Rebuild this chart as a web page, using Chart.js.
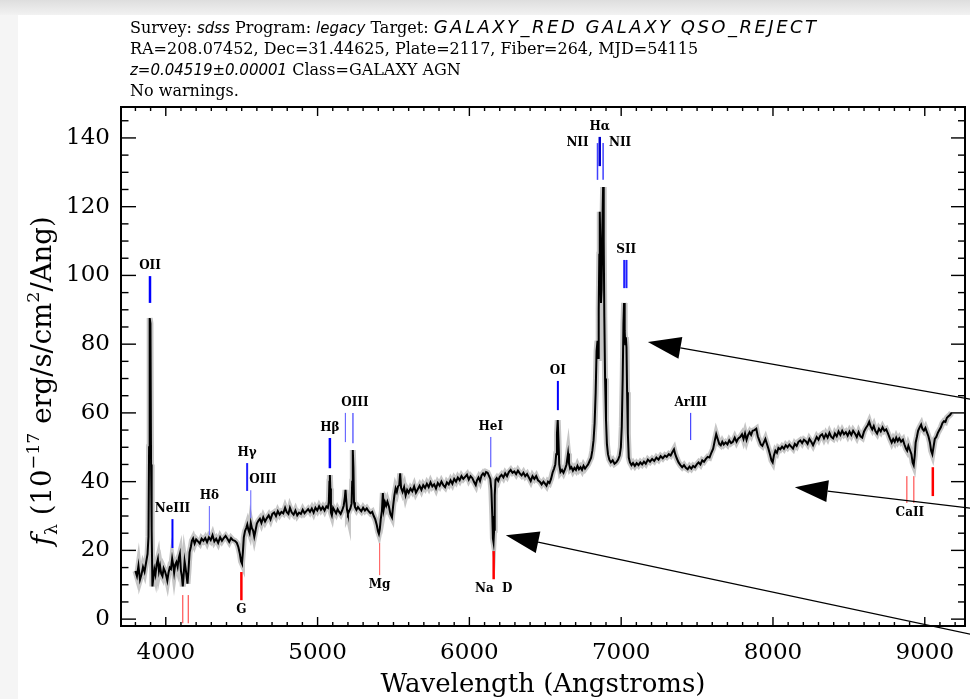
<!DOCTYPE html>
<html>
<head>
<meta charset="utf-8">
<title>SDSS spectrum</title>
<script src="https://cdn.jsdelivr.net/npm/chart.js@4.4.1/dist/chart.umd.min.js"></script>
<style>
  html, body { margin: 0; padding: 0; background: #fff; overflow: hidden; }
  canvas { display: block; }
</style>
</head>
<body>
<canvas id="spec" width="970" height="699"></canvas>
<script>
const wave = [
  3800,3810,3820,3830,3840,3850,3860,3870,3880,3886,
  3890,3894,3899,3903,3907,3912,3918,3925,3932,3940,
  3948,3955,3962,3970,3978,3986,3994,4002,4010,4018,
  4026,4034,4042,4048,4055,4062,4070,4078,4086,4093,
  4100,4106,4112,4118,4124,4130,4137,4143,4150,4157,
  4165,4172,4180,4190,4200,4212,4224,4236,4248,4260,
  4272,4284,4296,4308,4320,4332,4345,4358,4370,4382,
  4394,4406,4418,4430,4442,4455,4468,4478,4488,4496,
  4502,4508,4514,4522,4530,4537,4544,4552,4560,4567,
  4575,4583,4590,4600,4610,4620,4630,4642,4654,4666,
  4678,4690,4702,4714,4726,4738,4750,4762,4774,4786,
  4796,4808,4818,4830,4842,4854,4866,4878,4890,4902,
  4914,4926,4938,4950,4962,4974,4986,4998,5010,5022,
  5034,5046,5058,5068,5074,5078,5081,5084,5088,5094,
  5102,5112,5122,5132,5142,5152,5162,5172,5180,5184,
  5188,5194,5200,5208,5216,5224,5228,5232,5236,5240,
  5246,5256,5266,5276,5288,5300,5312,5324,5336,5348,
  5360,5370,5380,5390,5398,5404,5410,5416,5424,5430,
  5436,5444,5452,5460,5470,5480,5490,5498,5506,5514,
  5522,5530,5538,5544,5550,5560,5570,5580,5590,5600,
  5612,5624,5636,5648,5660,5672,5684,5696,5708,5720,
  5732,5744,5756,5768,5780,5792,5804,5816,5828,5840,
  5852,5864,5876,5888,5900,5912,5924,5936,5948,5960,
  5972,5984,5996,6008,6020,6032,6042,6050,6060,6070,
  6080,6090,6100,6110,6120,6130,6138,6145,6151,6155,
  6159,6163,6167,6172,6180,6190,6200,6212,6224,6236,
  6248,6260,6272,6284,6296,6308,6320,6332,6344,6356,
  6368,6380,6392,6404,6416,6428,6440,6452,6464,6476,
  6488,6498,6508,6518,6528,6538,6548,6558,6566,6572,
  6577,6582,6587,6592,6600,6610,6620,6630,6640,6650,
  6656,6664,6672,6682,6692,6702,6712,6722,6732,6742,
  6752,6762,6772,6782,6792,6802,6810,6818,6825,6832,
  6838,6844,6848,6852,6856,6859,6863,6867,6871,6876,
  6881,6885,6889,6894,6900,6906,6913,6922,6932,6944,
  6956,6968,6980,6990,6998,7004,7010,7015,7019,7023,
  7027,7031,7035,7039,7044,7050,7058,7068,7078,7090,
  7102,7114,7126,7138,7150,7162,7176,7190,7204,7218,
  7232,7246,7260,7274,7288,7300,7314,7326,7338,7348,
  7356,7366,7378,7390,7402,7414,7426,7438,7450,7462,
  7474,7486,7498,7510,7522,7534,7546,7558,7570,7582,
  7594,7606,7616,7626,7636,7646,7656,7666,7676,7688,
  7700,7712,7724,7736,7748,7760,7772,7784,7796,7806,
  7816,7826,7836,7846,7856,7866,7878,7890,7900,7910,
  7920,7930,7940,7950,7960,7970,7980,7990,7998,8006,
  8016,8026,8036,8048,8060,8072,8084,8096,8108,8120,
  8132,8144,8156,8168,8180,8192,8204,8216,8228,8240,
  8252,8264,8276,8288,8300,8312,8324,8336,8348,8360,
  8372,8384,8396,8408,8420,8432,8444,8456,8468,8480,
  8492,8504,8516,8528,8540,8552,8564,8576,8588,8600,
  8612,8624,8634,8644,8654,8664,8674,8686,8698,8710,
  8722,8734,8746,8758,8770,8782,8792,8802,8812,8822,
  8832,8844,8856,8866,8876,8884,8892,8902,8912,8920,
  8927,8934,8940,8948,8956,8966,8976,8984,8994,9004,
  9014,9024,9034,9042,9050,9058,9066,9076,9086,9096,
  9106,9116,9126,9136,9146,9156,9166,9176
];
// flux, 1e-17 erg/s/cm^2/Ang
const flux = [
  14.0,12.5,15.5,11.5,13.0,15.2,13.8,16.4,19.0,24.0,
  50.0,87.6,86.0,45.0,26.0,9.5,12.0,14.5,13.0,16.0,
  17.5,14.0,15.5,13.2,12.5,14.8,14.0,12.8,11.2,13.5,
  15.0,14.6,17.6,16.0,13.5,15.8,16.6,15.2,17.8,19.0,
  14.0,12.5,9.5,13.0,16.8,15.0,12.5,10.3,14.5,19.5,
  21.0,22.8,23.5,22.0,23.2,22.6,22.0,23.4,22.8,23.6,
  22.4,23.8,23.0,24.4,22.6,23.4,22.2,23.8,22.8,23.6,
  24.2,23.4,22.5,23.6,23.0,22.8,22.2,21.0,19.0,16.8,
  16.2,19.5,23.8,25.6,26.5,27.5,26.0,25.0,28.0,26.5,
  25.8,24.0,25.5,27.8,28.6,29.2,28.0,29.6,28.4,29.4,
  30.2,29.0,30.6,31.0,30.0,31.4,30.4,31.2,30.8,32.4,
  31.2,30.6,32.4,31.0,30.4,31.6,30.2,31.0,30.6,31.8,
  30.8,31.4,32.0,31.2,32.2,31.0,32.4,31.6,32.8,31.8,
  32.6,31.6,32.8,32.4,34.0,40.0,41.9,38.0,31.0,30.2,
  32.4,31.6,30.8,32.0,31.2,30.6,31.6,33.0,35.6,37.6,
  35.0,31.8,30.6,31.4,32.2,33.6,40.0,49.2,44.0,34.0,
  32.6,31.8,32.6,32.0,31.4,32.4,31.6,32.2,31.4,30.8,
  31.2,30.0,29.0,27.4,25.6,24.8,26.2,29.0,31.5,36.7,
  32.0,34.0,33.0,34.2,32.8,30.5,29.6,33.0,36.0,38.0,
  37.0,38.6,39.0,42.4,38.2,37.0,38.4,36.0,37.6,36.8,
  38.0,37.2,38.6,36.8,37.8,38.8,37.6,39.0,38.2,39.4,
  38.4,39.8,38.6,39.2,38.0,39.6,38.8,40.0,39.0,38.4,
  39.8,39.2,40.4,39.4,40.8,40.0,41.2,40.4,41.6,40.8,
  41.4,42.0,40.6,41.6,41.0,39.8,39.0,40.4,41.2,40.2,
  41.8,42.4,41.8,42.8,42.6,41.6,40.8,37.5,30.0,23.5,
  22.4,26.0,36.0,40.5,41.0,40.2,41.4,42.0,41.2,42.4,
  41.6,42.8,43.4,42.6,43.0,42.2,43.2,42.4,41.8,42.6,
  41.6,42.2,41.2,40.2,41.6,40.8,41.6,40.4,40.0,39.2,
  40.0,39.4,38.8,40.0,39.6,40.8,42.6,43.8,45.0,48.0,
  54.0,57.9,52.0,45.0,42.8,43.4,42.6,43.6,45.0,48.2,
  45.4,43.8,44.2,43.2,44.0,43.4,44.6,43.6,44.2,43.4,
  44.6,43.8,44.4,45.0,46.0,47.0,49.0,52.0,57.0,66.0,
  78.0,81.0,76.0,90.0,106.0,118.5,108.0,92.0,96.0,114.0,
  125.7,110.0,88.0,70.0,58.0,51.0,48.0,46.4,45.6,46.2,
  45.2,45.6,46.4,47.6,50.0,56.0,70.0,86.0,92.0,84.0,
  80.0,82.0,79.0,66.0,54.0,47.0,45.6,44.8,45.4,44.6,
  45.4,44.8,45.6,45.0,45.8,45.2,46.4,45.8,46.6,46.0,
  47.0,46.4,47.4,46.8,47.6,47.2,48.0,47.6,48.6,49.4,
  48.0,46.8,45.6,44.8,44.2,44.8,44.0,43.6,44.4,43.8,
  44.6,44.2,45.0,45.6,45.0,46.2,45.8,46.6,47.2,47.0,
  48.4,49.6,51.8,53.8,52.4,51.0,50.6,51.6,50.8,51.4,
  50.8,52.0,51.2,51.6,52.8,51.6,52.6,53.0,53.8,52.4,
  54.0,52.2,53.6,54.4,53.6,54.8,55.0,55.4,53.2,52.0,
  50.8,50.4,51.4,52.4,51.0,49.6,48.0,46.2,45.6,47.6,
  49.0,48.4,49.8,49.4,50.2,49.6,50.6,50.0,50.8,50.2,
  49.6,51.0,50.4,51.6,52.0,51.2,52.2,51.8,51.0,52.4,
  51.6,50.6,51.8,53.0,52.2,53.4,53.8,52.6,53.8,52.8,
  54.2,53.0,52.6,54.0,53.2,54.6,53.6,54.8,53.8,54.4,
  53.4,54.6,53.6,54.8,54.0,53.0,54.4,53.2,52.8,54.6,
  55.6,56.4,57.4,56.0,55.2,56.2,54.8,54.0,55.4,54.6,
  55.8,54.8,55.2,54.0,52.6,51.4,52.4,51.6,52.8,51.8,
  52.6,51.6,52.2,50.8,49.6,49.0,50.4,49.2,48.0,45.6,
  44.8,47.6,51.4,53.0,54.8,55.8,56.6,55.4,54.8,55.6,
  54.4,53.2,51.4,49.0,48.0,50.2,52.4,53.0,54.2,55.0,
  55.8,57.0,57.6,57.4,58.6,59.0,59.4,60.0
];

// axes
const xMin = 3705, xMax = 9265;
const yMin = -2, yMax = 149;
const xTickLabels = [4000, 5000, 6000, 7000, 8000, 9000];
const yTickLabels = [0, 20, 40, 60, 80, 100, 120, 140];

// emission line markers (blue, above the spectrum)
const emName = ['OII', 'NeIII', 'H\u03b4', 'H\u03b3', 'OIII', 'H\u03b2', '', 'OIII', 'HeI', 'OI', 'NII', 'H\u03b1', 'NII', 'SII', '', 'ArIII'];
const emWave = [3896, 4044, 4287, 4536, 4560, 5081, 5183, 5233, 6141, 6583, 6844, 6859, 6881, 7020, 7035, 7458];
const emTop  = [99.8, 29.1, 32.9, 45.4, 37.5, 52.7, 60.0, 60.0, 53.0, 69.3, 138.5, 140.3, 138.5, 104.5, 104.5, 60.0];
const emBot  = [92.0, 20.7, 24.4, 37.3, 29.4, 43.9, 51.5, 51.2, 44.2, 60.8, 127.8, 131.8, 127.8, 96.3, 96.3, 52.1];

// absorption line markers (red, below the spectrum)
const absName = ['', '', 'G', 'Mg', 'Na  D', 'CaII', '', ''];
const absWave = [4112, 4148, 4498, 5409, 6160, 8882, 8928, 9053];
const absTop  = [7.0, 7.0, 13.7, 22.1, 19.8, 41.6, 41.6, 44.2];
const absBot  = [-1.2, -1.2, 5.5, 12.8, 11.6, 33.8, 33.8, 35.8];

// overlaid arrows: tip and tail in data units
const arrowTip  = [[7176, 80.6], [8144, 38.4], [6240, 24.4]];
const arrowTail = [[9300, 64.0], [9300, 32.3], [9300, -4.4]];

// header text: [text, style]  0 = roman, 1 = italic, 2 = wide italic caps
const header = [
  [['Survey: ', 0], ['sdss', 1], [' Program: ', 0], ['legacy', 1], [' Target: ', 0], ['GALAXY_RED GALAXY QSO_REJECT', 2]],
  [['RA=208.07452, Dec=31.44625, Plate=2117, Fiber=264, MJD=54115', 0]],
  [['z=0.04519\u00b10.00001', 1], [' Class=GALAXY AGN', 0]],
  [['No warnings.', 0]]
];

// marker styles
const emWidth = [2.5, 2, 1, 2, 1, 2.5, 1, 1.2, 1, 2, 1.5, 2.5, 1.5, 2, 2, 1];
const emColor = ['#0000ff', '#0000ff', '#6060ff', '#2020ff', '#6060ff', '#0000ff', '#5050ff', '#4040ff',
                 '#4040ff', '#0000ff', '#4040ff', '#0000cc', '#4040ff', '#2020ff', '#2020ff', '#2020ff'];
const emDx = [0, 0, 0, 0, 12, 0, 0, 2, 0, 0, -20, 0, 17, 2, 0, 0];
const emDy = [0, 0, 0, 0, 0, 0, 0, 0, 0, 0, 10, 0, 10, 0, 0, 0];
const absWidth = [1, 1, 2.5, 1, 2.5, 1, 1, 2.5];
const absColor = ['#ff3030', '#ff3030', '#ff0000', '#ff5050', '#ff0000', '#ff3030', '#ff3030', '#ff0000'];
const absDx = [0, 0, 0, 0, 0, 3, 0, 0];

const serif = '"DejaVu Serif"';
Chart.defaults.font.family = 'DejaVu Serif';
Chart.defaults.color = '#000';

function seg(ctx, x1, y1, x2, y2) {
  ctx.beginPath(); ctx.moveTo(x1, y1); ctx.lineTo(x2, y2); ctx.stroke();
}

function arrow(ctx, x1, y1, x2, y2) {
  const a = Math.atan2(y2 - y1, x2 - x1);
  const L = 33, W = 11;
  const bx = x2 - L * Math.cos(a), by = y2 - L * Math.sin(a);
  ctx.lineWidth = 1.3;
  seg(ctx, x1, y1, bx, by);
  ctx.beginPath();
  ctx.moveTo(x2, y2);
  ctx.lineTo(bx + W * Math.sin(a), by - W * Math.cos(a));
  ctx.lineTo(bx - W * Math.sin(a), by + W * Math.cos(a));
  ctx.closePath();
  ctx.fill();
}

// draws text made of differently styled pieces, returns width
function pieces(ctx, parts, x, y, measureOnly) {
  let w = 0;
  parts.forEach(p => {
    ctx.font = p.font;
    ctx.letterSpacing = p.spacing || '0px';
    if (!measureOnly) ctx.fillText(p.t, x + w, y + (p.dy || 0));
    w += ctx.measureText(p.t).width;
  });
  ctx.letterSpacing = '0px';
  return w;
}

const headerFonts = [
  { font: '16px ' + serif },
  { font: 'italic 15px "DejaVu Sans"' },
  { font: 'italic 18px "DejaVu Sans"', spacing: '2.5px' }
];

const idlPlugin = {
  id: 'idl',
  beforeDraw(chart) {
    const ctx = chart.ctx;
    ctx.save();
    ctx.fillStyle = '#fff';
    ctx.fillRect(0, 0, chart.width, chart.height);
    const g = ctx.createLinearGradient(0, 0, 0, 15);
    g.addColorStop(0, '#dedede'); g.addColorStop(1, '#f2f2f2');
    ctx.fillStyle = g;
    ctx.fillRect(0, 0, chart.width, 15);
    ctx.fillStyle = '#f5f5f5';
    ctx.fillRect(0, 15, 18, chart.height - 15);
    ctx.restore();
  },
  afterDatasetsDraw(chart) {
    const ctx = chart.ctx, xs = chart.scales.x, ys = chart.scales.y;
    ctx.save();
    ctx.font = 'bold 12px ' + serif;
    ctx.textAlign = 'center';
    ctx.textBaseline = 'middle';
    ctx.fillStyle = '#000';
    emWave.forEach((w, i) => {
      const px = xs.getPixelForValue(w);
      const y1 = ys.getPixelForValue(emTop[i]), y2 = ys.getPixelForValue(emBot[i]);
      ctx.strokeStyle = emColor[i]; ctx.lineWidth = emWidth[i];
      seg(ctx, px, y1, px, y2);
      if (emName[i]) ctx.fillText(emName[i], px + emDx[i], y1 - 10 + emDy[i]);
    });
    absWave.forEach((w, i) => {
      const px = xs.getPixelForValue(w);
      const y1 = ys.getPixelForValue(absTop[i]), y2 = ys.getPixelForValue(absBot[i]);
      ctx.strokeStyle = absColor[i]; ctx.lineWidth = absWidth[i];
      seg(ctx, px, y1, px, y2);
      if (absName[i]) ctx.fillText(absName[i], px + absDx[i], y2 + 10);
    });
    ctx.restore();
  },
  afterDraw(chart) {
    const ctx = chart.ctx, a = chart.chartArea, xs = chart.scales.x, ys = chart.scales.y;
    ctx.save();
    ctx.strokeStyle = '#000';
    ctx.fillStyle = '#000';

    // inward ticks on all four sides
    ctx.lineWidth = 1.4;
    for (let w = Math.ceil(xs.min / 100) * 100; w <= xs.max; w += 100) {
      const px = xs.getPixelForValue(w);
      const major = w % 1000 === 0;
      seg(ctx, px, a.bottom, px, a.bottom - (major ? 9 : 4));
      seg(ctx, px, a.top, px, a.top + (major ? 9 : 4));
    }
    for (let v = Math.ceil(ys.min / 5) * 5; v <= ys.max; v += 5) {
      const py = ys.getPixelForValue(v);
      const major = v % 20 === 0;
      seg(ctx, a.left, py, a.left + (major ? 15 : 7.5), py);
      seg(ctx, a.right, py, a.right - (major ? 14 : 7), py);
    }
    ctx.lineWidth = 2;
    ctx.strokeRect(a.left, a.top, a.right - a.left, a.bottom - a.top);

    // header lines
    ctx.textAlign = 'left';
    ctx.textBaseline = 'alphabetic';
    header.forEach((line, k) => {
      const parts = line.map(p => Object.assign({ t: p[0] }, headerFonts[p[1]]));
      pieces(ctx, parts, 130, 33 + k * 21);
    });

    // x title
    ctx.font = '26px ' + serif;
    ctx.textAlign = 'center';
    ctx.fillText('Wavelength (Angstroms)', (a.left + a.right) / 2, 692);

    // y title, rotated, with sub/superscripts
    const big = '27.5px ' + serif, small = '17.5px ' + serif;
    const yt = [
      { t: 'f', font: 'italic 28.5px ' + serif },
      { t: '\u03bb', font: small, dy: 6 },
      { t: ' (10', font: big },
      { t: '\u221217', font: small, dy: -12 },
      { t: ' erg/s/cm', font: big },
      { t: '2', font: small, dy: -12 },
      { t: '/Ang)', font: big }
    ];
    ctx.save();
    ctx.translate(51, 381);
    ctx.rotate(-Math.PI / 2);
    ctx.textAlign = 'left';
    const tw = pieces(ctx, yt, 0, 0, true);
    pieces(ctx, yt, -tw / 2, 0);
    ctx.restore();

    // overlaid arrows
    arrowTip.forEach((t, i) => {
      arrow(ctx, xs.getPixelForValue(arrowTail[i][0]), ys.getPixelForValue(arrowTail[i][1]),
                 xs.getPixelForValue(t[0]), ys.getPixelForValue(t[1]));
    });
    ctx.restore();
  }
};

const pts = wave.map((w, i) => ({ x: w, y: flux[i] }));

new Chart(document.getElementById('spec'), {
  type: 'line',
  data: {
    datasets: [
      { data: pts, borderColor: '#c6c6c6', borderWidth: 6, pointRadius: 0, tension: 0, order: 2 },
      { data: pts, borderColor: '#000', borderWidth: 2, pointRadius: 0, tension: 0, order: 1 }
    ]
  },
  options: {
    responsive: false,
    animation: false,
    devicePixelRatio: 1,
    parsing: false,
    events: [],
    layout: { padding: { top: 107, right: 5, left: 0, bottom: 0 } },
    plugins: { legend: { display: false }, tooltip: { enabled: false } },
    scales: {
      x: {
        type: 'linear', min: xMin, max: xMax,
        afterBuildTicks: s => { s.ticks = xTickLabels.map(v => ({ value: v })); },
        afterFit: s => { s.height = 73; },
        grid: { display: false, drawTicks: false },
        border: { display: false },
        ticks: {
          autoSkip: false, maxRotation: 0, minRotation: 0,
          padding: 13, color: '#000', font: { family: 'DejaVu Serif', size: 23 },
          callback: v => String(v)
        }
      },
      y: {
        type: 'linear', min: yMin, max: yMax,
        afterBuildTicks: s => { s.ticks = yTickLabels.map(v => ({ value: v })); },
        afterFit: s => { s.width = 121; },
        grid: { display: false, drawTicks: false },
        border: { display: false },
        ticks: {
          padding: 11, color: '#000',
          font: { family: 'DejaVu Serif', size: 23 },
          callback: v => String(v)
        }
      }
    }
  },
  plugins: [idlPlugin]
});
</script>
</body>
</html>
